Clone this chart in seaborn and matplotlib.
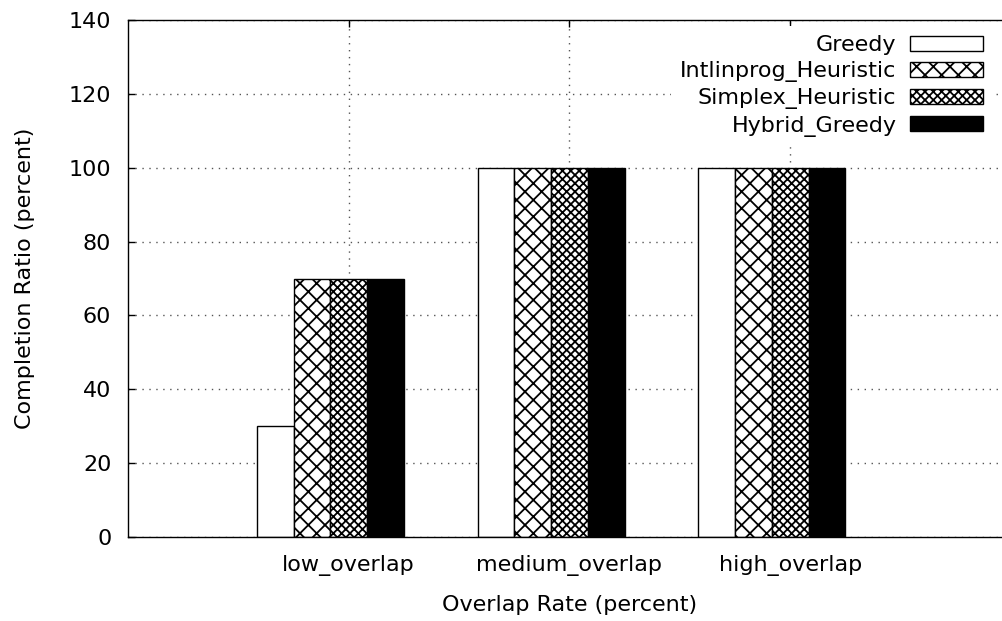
import pandas as pd
import matplotlib
matplotlib.use("Agg")
import matplotlib.pyplot as plt
import seaborn as sns

# data
categories = ["low_overlap", "medium_overlap", "high_overlap"]
algorithms = ["Greedy", "Intlinprog_Heuristic", "Simplex_Heuristic", "Hybrid_Greedy"]
greedy = [30, 100, 100]
intlinprog = [70, 100, 100]
simplex = [70, 100, 100]
hybrid = [70, 100, 100]

fills = ["white", "white", "white", "black"]
hatches = ["", "xx", "xxxx", ""]

rows = []
for algo, vals in zip(algorithms, [greedy, intlinprog, simplex, hybrid]):
    for cat, v in zip(categories, vals):
        rows.append({"overlap": cat, "algorithm": algo, "ratio": v})
df = pd.DataFrame(rows)

sns.set_style("white")
plt.rcParams["font.family"] = ["DejaVu Sans"]
plt.rcParams["hatch.linewidth"] = 1.3
plt.rcParams["text.color"] = "black"
plt.rcParams["axes.labelcolor"] = "black"

FS = 16

fig = plt.figure(figsize=(10.03, 6.21), dpi=100)
ax = fig.add_axes([128 / 1003, 84 / 621, 883 / 1003, 517 / 621])

sns.barplot(data=df, x="overlap", y="ratio", hue="algorithm",
            order=categories, hue_order=algorithms, palette=fills,
            width=2 / 3, edgecolor="black", linewidth=1.0,
            errorbar=None, legend=False, ax=ax, zorder=2)

for cont, h in zip(ax.containers, hatches):
    for bar in cont:
        bar.set_hatch(h)
        bar.set_edgecolor("black")

# gnuplot-like axes: ticks sit a little right of the bar group centre
offs = 1 / 12
ax.set_xticks([i + offs for i in range(len(categories))])
ax.set_xticklabels(categories)
ax.set_xlim(-1 + offs, 3 + offs)
ax.set_ylim(0, 140)
ax.set_yticks(range(0, 141, 20))

ax.grid(True, linestyle=(0, (1, 4)), color="#555555", linewidth=1.0, zorder=0)
ax.set_axisbelow(True)

ax.tick_params(axis="both", direction="in", length=5, width=1, colors="black",
               labelsize=FS, top=True, left=True, bottom=True)
ax.tick_params(axis="y", pad=12)
ax.tick_params(axis="x", pad=13)

for side in ["left", "top", "bottom"]:
    ax.spines[side].set_color("black")
    ax.spines[side].set_linewidth(1.0)
ax.spines["right"].set_visible(False)

ax.set_xlabel("Overlap Rate (percent)", fontsize=FS, labelpad=13.5)
ax.set_ylabel("Completion Ratio (percent)", fontsize=FS, labelpad=24)

handles = [cont[0] for cont in ax.containers]
leg = ax.legend(handles, algorithms, loc="upper right",
                bbox_to_anchor=(992 / 1003, 1 - 26 / 621),
                bbox_transform=fig.transFigure, borderaxespad=0,
                frameon=True, fancybox=False, fontsize=FS,
                markerfirst=False, handlelength=3.3, handleheight=0.65,
                handletextpad=0.6, labelspacing=0.28, borderpad=0.4)
leg.get_frame().set_facecolor("white")
leg.get_frame().set_edgecolor("none")
leg.get_frame().set_alpha(1.0)
for t in leg.get_texts():
    t.set_ha("right")
leg.set_zorder(5)

fig.savefig("out.png", dpi=100)
